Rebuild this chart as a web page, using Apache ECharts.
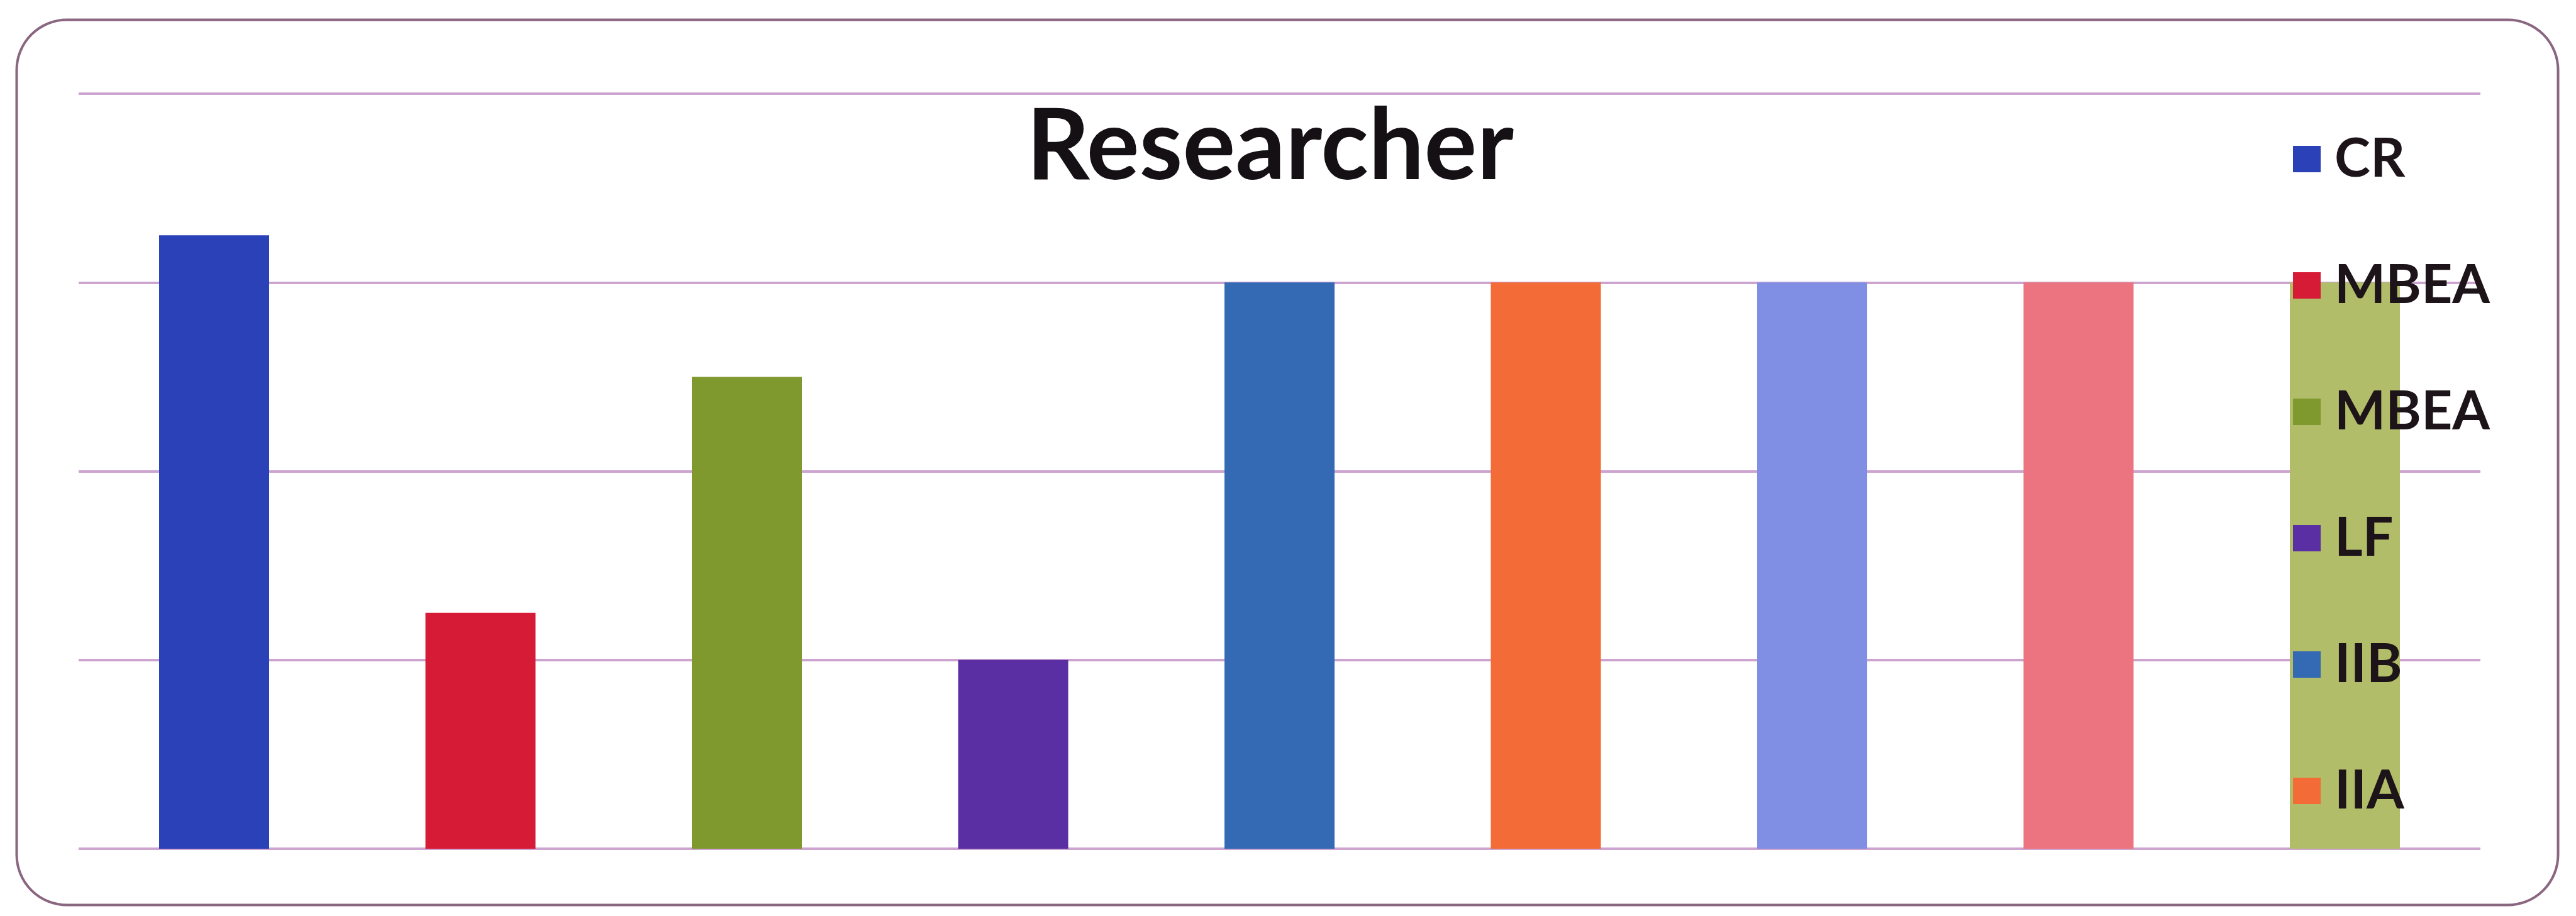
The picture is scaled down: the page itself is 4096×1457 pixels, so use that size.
<!DOCTYPE html>
<html>
<head>
<meta charset="utf-8">
<title>Researcher</title>
<script src="https://cdn.jsdelivr.net/npm/echarts@6/dist/echarts.min.js"></script>
<style>
  html, body { margin: 0; padding: 0; background: #ffffff; }
  #chart { width: 4096px; height: 1457px; }
</style>
</head>
<body>
<div id="chart"></div>
<script>
// One category, nine series drawn side by side (clustered columns)
const seriesKeys   = ['CR', 'MBEA-1', 'MBEA-2', 'LF', 'IIB', 'IIA', 'Series 7', 'Series 8', 'Series 9'];
const seriesLabels = ['CR', 'MBEA', 'MBEA', 'LF', 'IIB', 'IIA', 'Series 7', 'Series 8', 'Series 9'];
const seriesValues = [13, 5, 10, 4, 12, 12, 12, 12, 12];
const seriesColors = ['#2a41b8', '#d61b37', '#80992f', '#5a2fa3', '#3469b3', '#f36b36', '#808fe3', '#ec7480', '#b1bd69'];
// the legend only has room for the first six entries
const legendKeys = seriesKeys.slice(0, 6);
const yTicks = { min: 0, max: 16, interval: 4 };

const labelOf = {};
seriesKeys.forEach((k, i) => { labelOf[k] = seriesLabels[i]; });

const chart = echarts.init(document.getElementById('chart'), null, { renderer: 'canvas' });

const series = seriesKeys.map((key, i) => ({
  name: key,
  type: 'bar',
  data: [seriesValues[i]],
  barWidth: 175,
  barGap: '142%',
  itemStyle: { color: seriesColors[i] },
  emphasis: { disabled: true },
  z: 2
}));

chart.setOption({
  animation: false,
  backgroundColor: '#ffffff',
  color: seriesColors,
  title: {
    text: 'Researcher',
    left: 1632,
    top: 156,
    padding: 0,
    textStyle: {
      fontFamily: 'Lato',
      fontWeight: 'bold',
      fontSize: 157,
      color: '#141014'
    }
  },
  legend: {
    data: legendKeys,
    orient: 'vertical',
    left: 3646,
    top: 210,
    height: 1200,
    padding: 0,
    icon: 'rect',
    itemWidth: 44,
    itemHeight: 42,
    itemGap: 115,
    formatter: name => labelOf[name],
    textStyle: {
      fontFamily: 'Lato',
      fontWeight: 'bold',
      fontSize: 86,
      color: '#1c1418',
      padding: [0, 0, 0, 17]
    },
    selectedMode: false
  },
  grid: { left: 125, right: 152, top: 149, bottom: 107, containLabel: false },
  xAxis: {
    type: 'category',
    data: [''],
    axisLine: { show: false },
    axisTick: { show: false },
    axisLabel: { show: false }
  },
  yAxis: {
    type: 'value',
    min: yTicks.min,
    max: yTicks.max,
    interval: yTicks.interval,
    axisLine: { show: false },
    axisTick: { show: false },
    axisLabel: { show: false },
    splitLine: { show: true, lineStyle: { color: '#cda4cf', width: 4 } }
  },
  graphic: [{
    type: 'rect',
    left: 24,
    top: 29,
    shape: { width: 4041, height: 1408, r: 80 },
    style: { fill: 'none', stroke: '#8a6680', lineWidth: 4 },
    silent: true,
    z: -1
  }],
  series: series
});
</script>
</body>
</html>
